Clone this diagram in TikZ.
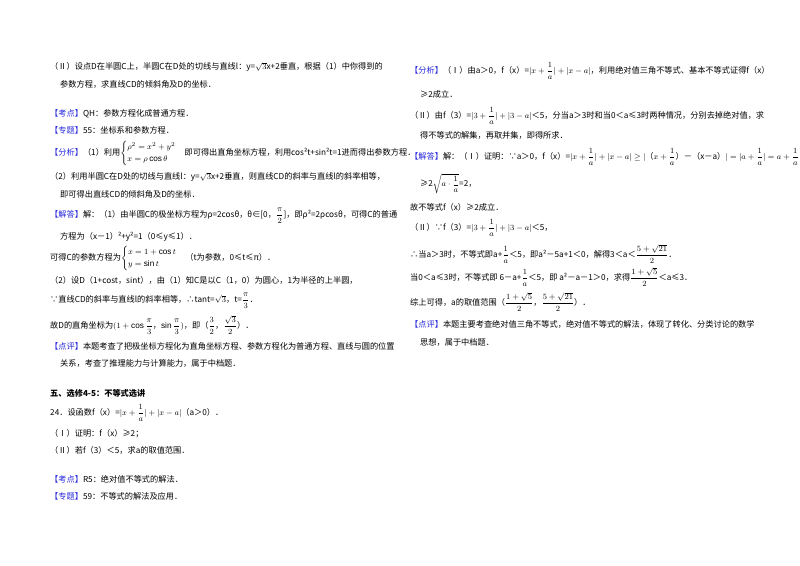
\documentclass[tikz,border=0pt]{standalone}
\usepackage{fontspec}
\usepackage{amsmath,amssymb}
\setmainfont{Liberation Sans}
\newfontfamily\cjk{Noto Sans CJK SC}
\definecolor{tagblue}{RGB}{40,40,220}
\newcommand{\tg}[1]{{\color{tagblue}【#1】}}
\newcommand{\fr}[2]{\dfrac{#1}{#2}}
\begin{document}
\begin{tikzpicture}[x=1pt,y=-1pt,
  ln/.style={anchor=west,inner sep=0pt,font=\cjk\fontsize{8.2}{10}\selectfont}]
\useasboundingbox (0,0) rectangle (800,565);
\fill[white] (0,0) rectangle (800,565);
% left column
\node[ln] (l1) at (50,67) {（Ⅱ）设点D在半圆C上，半圆C在D处的切线与直线l：y=$\sqrt{3}$x+2垂直，根据（1）中你得到的};
\node[ln] (l2) at (60,84) {参数方程，求直线CD的倾斜角及D的坐标．};
\node[ln] (l3) at (50,114) {\tg{考点}QH：参数方程化成普通方程．};
\node[ln] (l4) at (50,130) {\tg{专题}55：坐标系和参数方程．};
\node[ln] (l5) at (50,153) {\tg{分析}（1）利用$\begin{cases}\rho^2=x^2+y^2\\ x=\rho\cos\theta\end{cases}$即可得出直角坐标方程，利用cos²t+sin²t=1进而得出参数方程．};
\node[ln] (l6) at (50,177) {（2）利用半圆C在D处的切线与直线l：y=$\sqrt{3}$x+2垂直，则直线CD的斜率与直线l的斜率相等，};
\node[ln] (l7) at (60,194) {即可得出直线CD的倾斜角及D的坐标．};
\node[ln] (l8) at (50,216) {\tg{解答}解：（1）由半圆C的极坐标方程为ρ=2cosθ，θ∈[0，$\fr{\pi}{2}$]，即ρ²=2ρcosθ，可得C的普通};
\node[ln] (l9) at (60,237) {方程为（x－1）²+y²=1（0≤y≤1）．};
\node[ln] (l10) at (50,258) {可得C的参数方程为$\begin{cases}x=1+\cos t\\ y=\sin t\end{cases}$（t为参数，0≤t≤π）．};
\node[ln] (l11) at (50,280) {（2）设D（1+cost，sint），由（1）知C是以C（1，0）为圆心，1为半径的上半圆，};
\node[ln] (l12) at (50,301) {∵直线CD的斜率与直线l的斜率相等，∴tant=$\sqrt{3}$，t=$\fr{\pi}{3}$．};
\node[ln] (l13) at (50,325) {故D的直角坐标为$(1+\cos\fr{\pi}{3}$，$\sin\fr{\pi}{3})$，即（$\fr{3}{2}$，$\fr{\sqrt{3}}{2}$）．};
\node[ln] (l14) at (50,346) {\tg{点评}本题考查了把极坐标方程化为直角坐标方程、参数方程化为普通方程、直线与圆的位置};
\node[ln] (l15) at (60,363) {关系，考查了推理能力与计算能力，属于中档题．};
\node[ln,font=\cjk\bfseries\fontsize{8.2}{10}\selectfont] (l16) at (50,393) {五、选修4-5：不等式选讲};
\node[ln] (l17) at (50,413) {24．设函数f（x）=$|x+\fr{1}{a}|+|x-a|$（a＞0）．};
\node[ln] (l18) at (50,434) {（Ⅰ）证明：f（x）≥2；};
\node[ln] (l19) at (50,450) {（Ⅱ）若f（3）＜5，求a的取值范围．};
\node[ln] (l20) at (50,479) {\tg{考点}R5：绝对值不等式的解法．};
\node[ln] (l21) at (50,496) {\tg{专题}59：不等式的解法及应用．};
% right column
\node[ln] (r1) at (410,71) {\tg{分析}（Ⅰ）由a＞0，f（x）=$|x+\fr{1}{a}|+|x-a|$，利用绝对值三角不等式、基本不等式证得f（x）};
\node[ln] (r2) at (420,94) {≥2成立．};
\node[ln] (r3) at (410,116) {（Ⅱ）由f（3）=$|3+\fr{1}{a}|+|3-a|$＜5，分当a＞3时和当0＜a≤3时两种情况，分别去掉绝对值，求};
\node[ln] (r4) at (420,135) {得不等式的解集，再取并集，即得所求．};
\node[ln] (r5) at (410,157) {\tg{解答}解：（Ⅰ）证明：∵a＞0，f（x）=$|x+\fr{1}{a}|+|x-a|\ge|$（$x+\fr{1}{a}$）－（x－a）$|=|a+\fr{1}{a}|=a+\fr{1}{a}$};
\node[ln] (r6) at (420,184) {≥2$\sqrt{a\cdot\fr{1}{a}}$=2，};
\node[ln] (r7) at (410,207) {故不等式f（x）≥2成立．};
\node[ln] (r8) at (410,228) {（Ⅱ）∵f（3）=$|3+\fr{1}{a}|+|3-a|$＜5，};
\node[ln] (r9) at (410,254) {∴当a＞3时，不等式即a+$\fr{1}{a}$＜5，即a²－5a+1＜0，解得3＜a＜$\fr{5+\sqrt{21}}{2}$．};
\node[ln] (r10) at (410,277) {当0＜a≤3时，不等式即 6－a+$\fr{1}{a}$＜5，即 a²－a－1＞0，求得$\fr{1+\sqrt{5}}{2}$＜a≤3．};
\node[ln] (r11) at (410,302) {综上可得，a的取值范围（$\fr{1+\sqrt{5}}{2}$，$\fr{5+\sqrt{21}}{2}$）．};
\node[ln] (r12) at (410,324) {\tg{点评}本题主要考查绝对值三角不等式，绝对值不等式的解法，体现了转化、分类讨论的数学};
\node[ln] (r13) at (420,342) {思想，属于中档题．};
\end{tikzpicture}
\end{document}
